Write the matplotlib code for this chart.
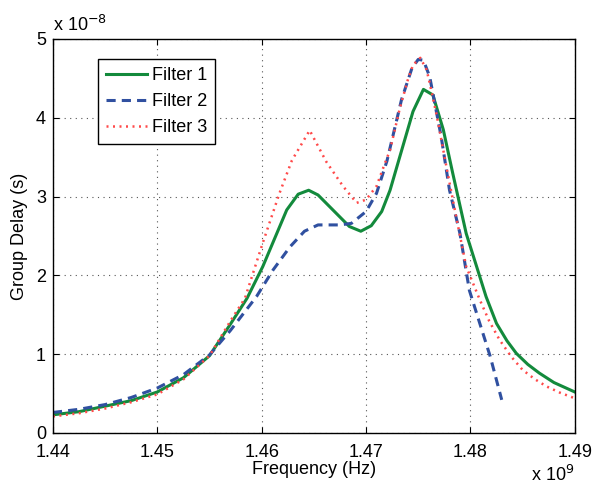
import matplotlib.pyplot as plt

# frequency in units of 1e9 Hz, group delay in units of 1e-8 s
f1 = [1.44, 1.4425, 1.445, 1.4475, 1.45, 1.4525, 1.455, 1.457, 1.4586, 1.4601, 1.4624, 1.4635,
      1.4645, 1.4654, 1.4675, 1.4684, 1.4695, 1.4705, 1.4715, 1.4723, 1.4732, 1.4745, 1.4755,
      1.4764, 1.4774, 1.4783, 1.4796, 1.4806, 1.4815, 1.4825, 1.4835, 1.4844, 1.4855, 1.4866,
      1.488, 1.49]
d1 = [0.23, 0.27, 0.34, 0.41, 0.52, 0.70, 0.98, 1.38, 1.71, 2.11, 2.83, 3.03,
      3.08, 3.02, 2.74, 2.62, 2.56, 2.63, 2.81, 3.08, 3.49, 4.08, 4.36,
      4.29, 3.85, 3.30, 2.53, 2.11, 1.73, 1.39, 1.17, 1.01, 0.87, 0.76,
      0.64, 0.52]

f2 = [1.44, 1.4425, 1.445, 1.4475, 1.45, 1.4525, 1.455, 1.457, 1.4595, 1.4611, 1.4627, 1.4641,
      1.4654, 1.4675, 1.4686, 1.47, 1.471, 1.472, 1.4734, 1.4744, 1.475, 1.4755, 1.4761,
      1.4772, 1.478, 1.479, 1.4799, 1.4809, 1.4819, 1.483]
d2 = [0.26, 0.30, 0.36, 0.45, 0.57, 0.74, 0.99, 1.30, 1.73, 2.07, 2.36, 2.56,
      2.64, 2.64, 2.66, 2.81, 3.04, 3.45, 4.23, 4.63, 4.74, 4.73, 4.52,
      3.76, 3.08, 2.53, 1.81, 1.39, 0.97, 0.42]

f3 = [1.44, 1.4425, 1.445, 1.4475, 1.45, 1.4525, 1.455, 1.457, 1.4584, 1.4601, 1.4617, 1.4629,
      1.4646, 1.4662, 1.4678, 1.4691, 1.47, 1.471, 1.4718, 1.4723, 1.4732, 1.474, 1.4745,
      1.4752, 1.4758, 1.4761, 1.4768, 1.4777, 1.4787, 1.4796, 1.4809, 1.4818, 1.4828, 1.4839,
      1.485, 1.4862, 1.4873, 1.4886, 1.49]
d3 = [0.21, 0.25, 0.31, 0.39, 0.49, 0.68, 0.98, 1.42, 1.71, 2.41, 3.04, 3.46,
      3.84, 3.44, 3.13, 2.92, 2.96, 3.13, 3.42, 3.59, 4.10, 4.48, 4.67,
      4.76, 4.61, 4.44, 4.01, 3.38, 2.70, 2.11, 1.69, 1.42, 1.18, 0.97,
      0.80, 0.68, 0.59, 0.51, 0.44]

xticks = [1.44, 1.45, 1.46, 1.47, 1.48, 1.49]
yticks = [0, 1, 2, 3, 4, 5]

plt.rcParams['font.family'] = ['Liberation Sans', 'DejaVu Sans']

fig = plt.figure(figsize=(5.95, 4.87), dpi=100)
ax = fig.add_axes([0.089, 0.111, 0.877, 0.809])

ax.plot(f1, d1, color='#138a3c', lw=2.2, label='Filter 1')
ax.plot(f2, d2, color='#3050a0', lw=2.2, dashes=(3, 2), label='Filter 2')
ax.plot(f3, d3, color='#ff4a4a', lw=1.8, dashes=(0.8, 1.8), label='Filter 3')

ax.set_xlim(1.44, 1.49)
ax.set_ylim(0, 5)
ax.set_xticks(xticks)
ax.set_yticks(yticks)
ax.set_xticklabels(['%.2f' % t for t in xticks], fontsize=13)
ax.set_yticklabels([str(t) for t in yticks], fontsize=13)
ax.tick_params(direction='in', top=True, right=True, length=4, width=0.8, pad=5)
ax.tick_params(axis='x', pad=8)
ax.grid(True, linestyle=(0, (1, 4)), color='#555555', lw=0.8)
for s in ax.spines.values():
    s.set_linewidth(1.0)

ax.set_xlabel('Frequency (Hz)', fontsize=13, labelpad=0)
ax.set_ylabel('Group Delay (s)', fontsize=13, labelpad=6)

ax.text(0.0, 1.01, r'x 10$^{-8}$', transform=ax.transAxes, fontsize=13, va='bottom', ha='left')
ax.text(1.0, -0.08, r'x 10$^{9}$', transform=ax.transAxes, fontsize=13, va='top', ha='right')

leg = ax.legend(loc='upper left', bbox_to_anchor=(0.086, 0.949), fontsize=13, fancybox=False,
                framealpha=1, edgecolor='black', borderpad=0.45, labelspacing=0.5,
                handlelength=2.3, handletextpad=0.25, borderaxespad=0)
leg.get_frame().set_linewidth(1.0)

fig.savefig('out.png', dpi=100)
